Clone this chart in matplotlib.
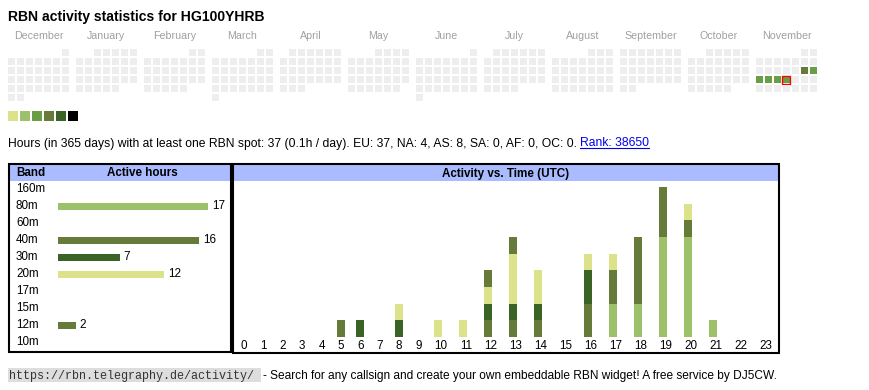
import datetime as dt
import matplotlib
matplotlib.use('Agg')
import matplotlib.pyplot as plt
import matplotlib.patches as patches
import numpy as np

plt.rcParams['font.family'] = ['Liberation Sans', 'DejaVu Sans']

W, H = 870, 390

# --- data -------------------------------------------------------------
title = 'RBN activity statistics for HG100YHRB'
months = ['December', 'January', 'February', 'March', 'April', 'May', 'June',
          'July', 'August', 'September', 'October', 'November']
first_day = dt.date(2024, 12, 1)
today = dt.date(2025, 11, 20)
level_colors = ['#dce28a', '#9dc16a', '#6a9e46', '#667a3a', '#3a6426', '#000000']
# active days -> index into level_colors
active_days = {
    dt.date(2025, 11, 15): 3,
    dt.date(2025, 11, 16): 2,
    dt.date(2025, 11, 17): 2,
    dt.date(2025, 11, 18): 2,
    dt.date(2025, 11, 19): 2,
    dt.date(2025, 11, 20): 2,
}

stats_text = ('Hours (in 365 days) with at least one RBN spot: 37 (0.1h / day). '
              'EU: 37, NA: 4, AS: 8, SA: 0, AF: 0, OC: 0. ')
rank_text = 'Rank: 38650'

bands = ['160m', '80m', '60m', '40m', '30m', '20m', '17m', '15m', '12m', '10m']
band_hours = [0, 17, 0, 16, 7, 12, 0, 0, 2, 0]
band_colors = {'80m': '#9dc16a', '40m': '#667a3a', '30m': '#3a6426',
               '20m': '#dce28a', '12m': '#667a3a'}

hours = [str(h) for h in range(24)]
#              0  1  2  3  4  5  6  7  8  9 10 11 12 13 14 15 16 17 18 19 20 21 22 23
hourly_80m = [0, 0, 0, 0, 0, 0, 0, 0, 0, 0, 0, 0, 0, 0, 0, 0, 0, 2, 2, 6, 6, 1, 0, 0]
hourly_40m = [0, 0, 0, 0, 0, 1, 0, 0, 0, 0, 0, 0, 1, 1, 1, 0, 2, 2, 4, 3, 1, 0, 0, 0]
hourly_30m = [0, 0, 0, 0, 0, 0, 1, 0, 1, 0, 0, 0, 1, 1, 1, 0, 2, 0, 0, 0, 0, 0, 0, 0]
hourly_20m = [0, 0, 0, 0, 0, 0, 0, 0, 1, 0, 1, 1, 1, 3, 2, 0, 1, 1, 0, 0, 1, 0, 0, 0]
hourly_12m = [0, 0, 0, 0, 0, 0, 0, 0, 0, 0, 0, 0, 1, 1, 0, 0, 0, 0, 0, 0, 0, 0, 0, 0]
stack = [('80m', hourly_80m), ('40m', hourly_40m), ('30m', hourly_30m),
         ('20m', hourly_20m), ('12m', hourly_12m)]

footer_url = 'https://rbn.telegraphy.de/activity/'
footer_text = '- Search for any callsign and create your own embeddable RBN widget! A free service by DJ5CW.'

header_blue = '#aabbff'


def fig_rect(x0, y0, x1, y1):
    # pixel box (top-left origin) -> figure fraction
    return [x0 / W, 1 - y1 / H, (x1 - x0) / W, (y1 - y0) / H]


fig = plt.figure(figsize=(W / 100, H / 100), dpi=100)
ax = fig.add_axes([0, 0, 1, 1])
ax.set_xlim(0, W)
ax.set_ylim(H, 0)
ax.axis('off')

ax.text(8, 20.7, title, fontsize=10.1, fontweight='bold', va='baseline')

# --- calendar ---------------------------------------------------------
cell, pitch, month_gap = 7, 9, 68
for m, name in enumerate(months):
    year = first_day.year + (first_day.month - 1 + m) // 12
    month = (first_day.month - 1 + m) % 12 + 1
    start = dt.date(year, month, 1)
    x_month = 8 + m * month_gap
    ax.text(x_month + 3 * pitch + cell / 2, 39, name, fontsize=7.7,
            color='#a0a0a0', ha='center', va='baseline')
    d = start
    while d.month == month:
        row = (d.day - 1 + start.weekday()) // 7
        x = x_month + d.weekday() * pitch
        y = 49 + row * pitch
        lvl = active_days.get(d)
        fc = '#eeeeee' if lvl is None else level_colors[lvl]
        ax.add_patch(patches.Rectangle((x, y), cell, cell, facecolor=fc, linewidth=0))
        if d == today:
            ax.add_patch(patches.Rectangle((x - 0.5, y - 0.5), cell + 1, cell + 1,
                                           facecolor='none', edgecolor='red', linewidth=1))
        d += dt.timedelta(days=1)

for i, c in enumerate(level_colors):
    ax.add_patch(patches.Rectangle((8 + 12 * i, 111), 10, 10, facecolor=c, linewidth=0))

# --- stats line -------------------------------------------------------
t = ax.text(8, 146.5, stats_text, fontsize=8.7, va='baseline')
fig.canvas.draw()
bb = t.get_window_extent().transformed(ax.transData.inverted())
r = ax.text(bb.x1, 146.5, rank_text, fontsize=8.7, va='baseline', color='#0000ee')
fig.canvas.draw()
rb = r.get_window_extent().transformed(ax.transData.inverted())
ax.plot([rb.x0, rb.x1], [148.3, 148.3], color='#0000ee', lw=0.8)

# --- table boxes ------------------------------------------------------
for x0, x1, y1 in [(9, 231, 352), (233, 779, 353)]:
    ax.add_patch(patches.Rectangle((x0 + 1, 165), x1 - x0 - 2, 16, facecolor=header_blue, linewidth=0))
    ax.add_patch(patches.Rectangle((x0, 164), x1 - x0, y1 - 164, facecolor='none',
                                   edgecolor='black', linewidth=1.5))
ax.text(16, 173.5, 'Band', fontsize=8.4, fontweight='bold', va='center')
ax.text(142, 173.5, 'Active hours', fontsize=8.4, fontweight='bold', va='center', ha='center')
ax.text(506, 173.5, 'Activity vs. Time (UTC)', fontsize=8.4, fontweight='bold', va='center', ha='center')

# --- band chart -------------------------------------------------------
px_per_hour = 150 / 17
ax_b = fig.add_axes(fig_rect(58, 180.8, 228, 350.8))
ax_b.set_xlim(0, 170 / px_per_hour)
ax_b.set_ylim(len(bands) - 0.5, -0.5)
ax_b.axis('off')
yb = np.arange(len(bands))
ax_b.barh(yb, band_hours, height=7 / 17,
          color=[band_colors.get(b, 'none') for b in bands], linewidth=0)
for yi, b, v in zip(yb, bands, band_hours):
    ax_b.text(-42 / px_per_hour, yi, b, fontsize=8.4, ha='left', va='center')
    if v > 0:
        ax_b.text(v + 4 / px_per_hour, yi, str(v), fontsize=8.4, ha='left', va='center')

# --- hourly chart -----------------------------------------------------
col_w = np.array([13.8 + 5.6 * len(h) for h in hours])
edges = np.concatenate([[0], np.cumsum(col_w)])
unit = 16.67
ax_h = fig.add_axes(fig_rect(234.3, 181, 234.3 + edges[-1], 337))
ax_h.set_xlim(0, edges[-1])
ax_h.set_ylim(0, 156 / unit)
ax_h.axis('off')
bottom = np.zeros(len(hours))
for band, vals in stack:
    vals = np.array(vals)
    ax_h.bar(edges[:-1] + 5.5, vals, width=8, bottom=bottom, align='edge',
             color=band_colors[band], linewidth=0)
    bottom += vals
for i, h in enumerate(hours):
    ax_h.text(edges[i] + col_w[i] / 2, -(345.7 - 337) / unit, h, fontsize=8.4,
              ha='center', va='center')

# --- footer -----------------------------------------------------------
ax.add_patch(patches.Rectangle((8, 368), 253, 14, facecolor='#dddddd', linewidth=0))
ax.text(9.5, 378.5, footer_url, fontsize=8.5, family='Liberation Mono',
        color='#333333', va='baseline')
ax.text(263, 378.5, footer_text, fontsize=8.6, va='baseline')

fig.savefig('out.png', dpi=100)
